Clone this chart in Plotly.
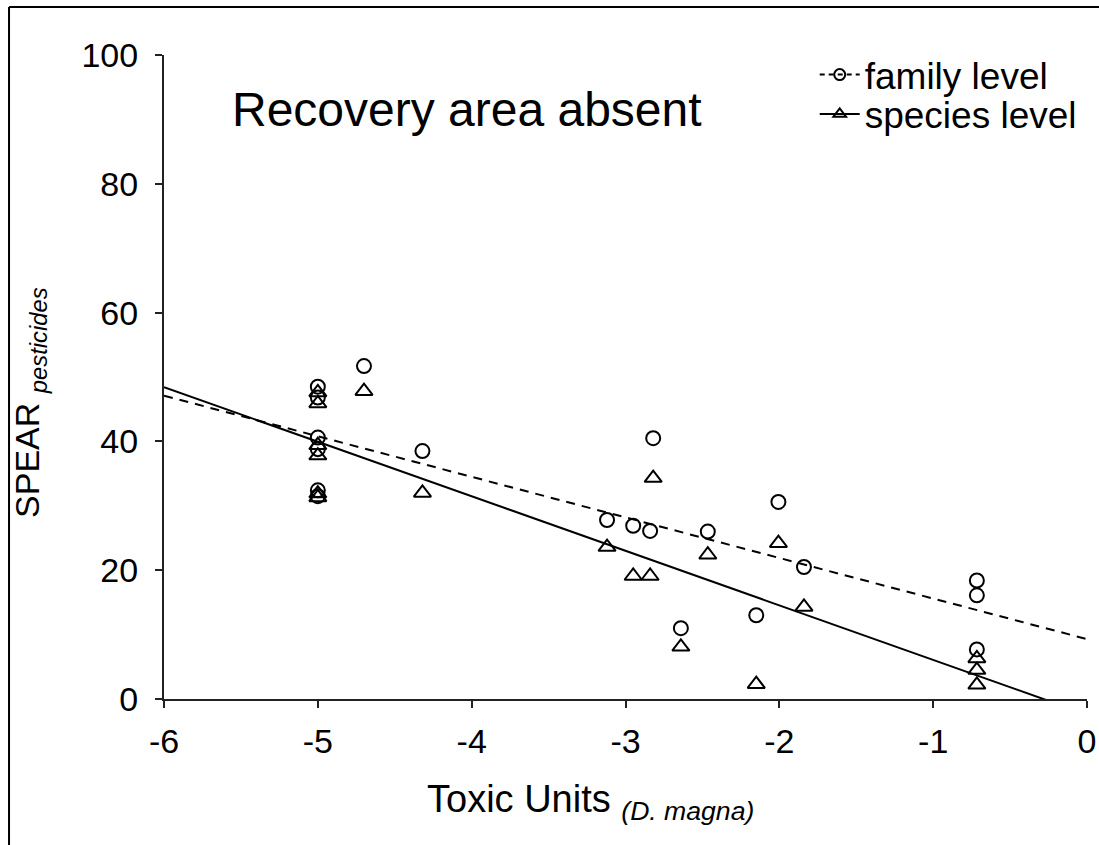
import plotly.graph_objects as go

# Toxic units (D. magna) and SPEAR values
family_x = [-5, -5, -5, -5, -5, -5, -4.70, -4.32, -3.12, -2.95, -2.84, -2.82,
            -2.64, -2.465, -2.15, -2.006, -1.84, -0.716, -0.716, -0.716]
family_y = [48.5, 46.8, 40.6, 38.8, 32.4, 31.5, 51.7, 38.5, 27.8, 26.9, 26.1, 40.5,
            11.0, 26.0, 13.0, 30.6, 20.5, 18.4, 16.1, 7.7]

species_x = [-5, -5, -5, -5, -5, -5, -4.70, -4.32, -3.12, -2.95, -2.84, -2.82,
             -2.64, -2.465, -2.15, -2.006, -1.84, -0.716, -0.716, -0.716]
species_y = [47.6, 45.9, 39.4, 37.8, 31.9, 31.3, 47.8, 32.0, 23.6, 19.1, 19.1, 34.3,
             8.1, 22.4, 2.3, 24.2, 14.3, 6.3, 4.5, 2.2]

# Regression lines (intercept, slope)
family_fit = (9.3, -6.3)
species_fit = (-2.4, -8.47)
fit_x = [-6, 0]

x_ticks = [-6, -5, -4, -3, -2, -1, 0]
y_ticks = [0, 20, 40, 60, 80, 100]

FONT = "Liberation Sans, Arial, sans-serif"

fig = go.Figure()

fig.add_trace(go.Scatter(
    x=fit_x, y=[family_fit[0] + family_fit[1] * v for v in fit_x],
    mode="lines", line=dict(color="black", width=2, dash="9px,7px"),
    showlegend=False, hoverinfo="skip"))
fig.add_trace(go.Scatter(
    x=fit_x, y=[species_fit[0] + species_fit[1] * v for v in fit_x],
    mode="lines", line=dict(color="black", width=2),
    showlegend=False, hoverinfo="skip"))

fig.add_trace(go.Scatter(
    x=family_x, y=family_y, mode="markers", name="family level",
    marker=dict(symbol="circle-open", size=14, color="black", line=dict(width=2)),
    cliponaxis=False, showlegend=False))
fig.add_trace(go.Scatter(
    x=species_x, y=species_y, mode="markers", name="species level",
    marker=dict(symbol="triangle-up-open", size=15, color="black", line=dict(width=2)),
    cliponaxis=False, showlegend=False))

# legend entries (line + marker), one legend each so row spacing can match
fig.add_trace(go.Scatter(
    x=[None], y=[None], mode="lines+markers", name="family level", legend="legend",
    line=dict(color="black", width=2, dash="5px,4px"),
    marker=dict(symbol="circle-open", size=11, color="black", line=dict(width=2))))
fig.add_trace(go.Scatter(
    x=[None], y=[None], mode="lines+markers", name="species level", legend="legend2",
    line=dict(color="black", width=2),
    marker=dict(symbol="triangle-up-open", size=11, color="black", line=dict(width=2))))

leg_common = dict(xanchor="left", yanchor="top", bgcolor="rgba(0,0,0,0)",
                  font=dict(size=37, family=FONT), itemwidth=40)

fig.update_layout(
    width=1099, height=845,
    margin=dict(l=164, r=12, t=55, b=146, autoexpand=False),
    paper_bgcolor="white", plot_bgcolor="white",
    font=dict(family=FONT, size=34, color="black"),
    showlegend=True,
    legend=dict(x=0.705, y=1.017, **leg_common),
    legend2=dict(x=0.705, y=0.956, **leg_common),
    xaxis=dict(range=[-6, 0], tickvals=x_ticks, ticktext=[str(v) for v in x_ticks],
               showgrid=False, zeroline=False, showline=True, linecolor="#222",
               linewidth=2, ticks="outside", ticklen=7, tickwidth=2, tickcolor="#222",
               tickfont=dict(size=34, family=FONT), ticklabelstandoff=4,
               automargin=False),
    yaxis=dict(range=[0, 100], tickvals=y_ticks, ticktext=[str(v) for v in y_ticks],
               showgrid=False, zeroline=False, showline=True, linecolor="#222",
               linewidth=2, ticks="outside", ticklen=7, tickwidth=2, tickcolor="#222",
               tickfont=dict(size=34, family=FONT), ticklabelstandoff=10,
               automargin=False),
    annotations=[
        dict(text="Recovery area absent", xref="paper", yref="paper",
             x=0.3288, y=0.915, xanchor="center", yanchor="middle",
             showarrow=False, font=dict(size=48, family=FONT)),
        dict(text="Toxic Units <sub><i>(D. magna)</i></sub>", xref="paper", yref="paper",
             x=0.2828, y=-0.16, xanchor="left", yanchor="middle",
             showarrow=False, font=dict(size=38, family=FONT)),
        dict(text="SPEAR <sub><i>pesticides</i></sub>", xref="paper", yref="paper",
             x=-0.145, y=0.46, xanchor="center", yanchor="middle", textangle=-90,
             showarrow=False, font=dict(size=34, family=FONT)),
    ],
    shapes=[
        dict(type="line", xref="paper", yref="paper",
             x0=-0.1679, x1=-0.1679, y0=-0.3, y1=1.0745,
             line=dict(color="black", width=2)),
        dict(type="line", xref="paper", yref="paper",
             x0=-0.1679, x1=1.2, y0=1.0745, y1=1.0745,
             line=dict(color="black", width=2)),
    ],
)

fig.write_html("out.html")
